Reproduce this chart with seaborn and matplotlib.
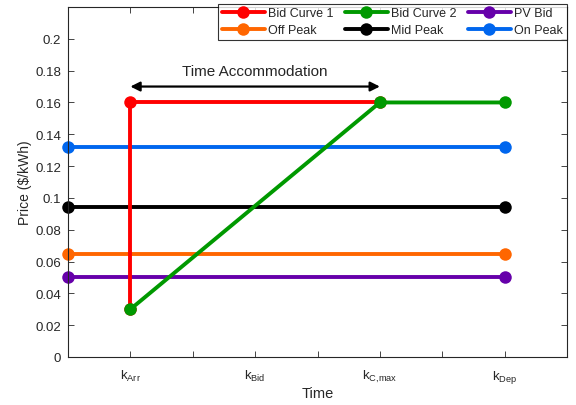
import matplotlib
matplotlib.use("Agg")
import matplotlib.pyplot as plt
import seaborn as sns
import pandas as pd

sns.set_style("white")
plt.rcParams['font.family'] = ['Liberation Sans', 'DejaVu Sans']
plt.rcParams['mathtext.fontset'] = 'custom'
plt.rcParams['mathtext.rm'] = 'Liberation Sans'
plt.rcParams['mathtext.it'] = 'Liberation Sans'
plt.rcParams['mathtext.default'] = 'regular'

# Data
bid1_x = [1, 1, 5]
bid1_y = [0.03, 0.16, 0.16]
bid2_x = [1, 5, 7]
bid2_y = [0.03, 0.16, 0.16]
flat_x = [0, 7]
pv_bid = 0.05
off_peak = 0.065
mid_peak = 0.094
on_peak = 0.132

tick_pos = [1, 2, 3, 4, 5, 6, 7]
tick_labels = [r'k$_{Arr}$', '', r'k$_{Bid}$', '', r'k$_{C{,}max}$', '', r'k$_{Dep}$']
y_ticks = [0, 0.02, 0.04, 0.06, 0.08, 0.1, 0.12, 0.14, 0.16, 0.18, 0.2]
y_labels = ['0', '0.02', '0.04', '0.06', '0.08', '0.1', '0.12', '0.14', '0.16', '0.18', '0.2']

colors = {
    'Bid Curve 1': '#ff0000',
    'Bid Curve 2': '#009900',
    'PV Bid': '#6600aa',
    'Off Peak': '#ff6600',
    'Mid Peak': '#000000',
    'On Peak': '#0066ee',
}

fig = plt.figure(figsize=(5.76, 4.06), dpi=100)
ax = fig.add_axes([68/576, 1 - 358/406, (567-68)/576, (358-8)/406])

lw = 2.8
ms = 9
series = [
    ('Off Peak', flat_x, [off_peak, off_peak]),
    ('Mid Peak', flat_x, [mid_peak, mid_peak]),
    ('On Peak', flat_x, [on_peak, on_peak]),
    ('PV Bid', flat_x, [pv_bid, pv_bid]),
    ('Bid Curve 1', bid1_x, bid1_y),
    ('Bid Curve 2', bid2_x, bid2_y),
]
handles = {}
for name, xs, ys in series:
    df = pd.DataFrame({'x': xs, 'y': ys})
    sns.lineplot(data=df, x='x', y='y', ax=ax, sort=False, estimator=None,
                 color=colors[name], lw=lw, marker='o', markersize=ms,
                 markeredgewidth=0, label=name, legend=False, clip_on=False)
    handles[name] = ax.lines[-1]

order = ['Bid Curve 1', 'Off Peak', 'Bid Curve 2', 'Mid Peak', 'PV Bid', 'On Peak']
leg = ax.legend([handles[n] for n in order], order, ncol=3, loc='upper right',
                bbox_to_anchor=(1.0, 1.01), fontsize=9, frameon=True, fancybox=False,
                edgecolor='black', borderpad=0.3, labelspacing=0.4, handlelength=3.4,
                handletextpad=0.3, columnspacing=0.9, borderaxespad=0)
leg.get_frame().set_linewidth(0.8)

ax.annotate('', xy=(1, 0.17), xytext=(5, 0.17),
            arrowprops=dict(arrowstyle='<|-|>', color='black', lw=1.6,
                            mutation_scale=14, shrinkA=0, shrinkB=0))
ax.text(3, 0.1755, 'Time Accommodation', ha='center', va='bottom', fontsize=11)

ax.set_xlim(0, 8)
ax.set_ylim(0, 0.22)
ax.set_xticks(tick_pos)
ax.set_xticklabels(tick_labels, fontsize=9.5)
ax.set_yticks(y_ticks)
ax.set_yticklabels(y_labels, fontsize=9.5)
ax.set_xlabel('Time', fontsize=10.5, labelpad=1)
ax.set_ylabel('Price ($/kWh)', fontsize=10, labelpad=2)
ax.tick_params(direction='in', length=4, width=0.6, top=True, right=True,
               bottom=True, left=True, colors='#262626')
ax.tick_params(axis='y', pad=5)
ax.tick_params(axis='x', pad=8)
for s in ax.spines.values():
    s.set_visible(True)
    s.set_color('#262626')
    s.set_linewidth(0.8)

fig.savefig('out.png', dpi=100)
